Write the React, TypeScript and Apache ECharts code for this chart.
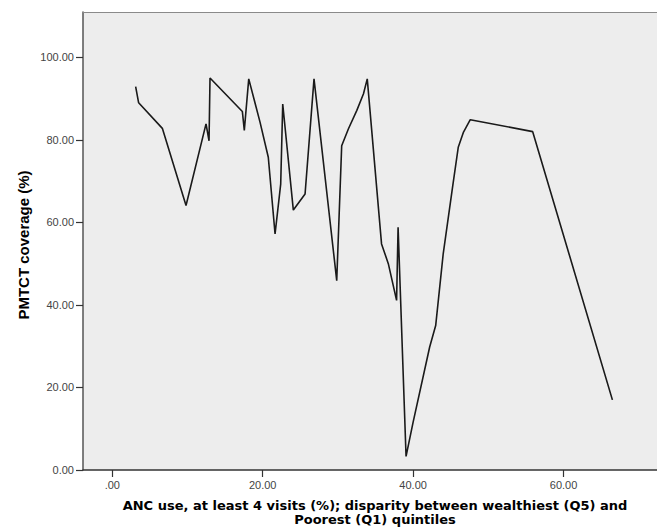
import React, { useEffect, useRef } from "react";
import * as echarts from "echarts";

const ancDisparity = [
  3.1, 3.5, 6.65, 9.8, 12.46, 12.86, 12.99, 17.29, 17.55, 18.14, 19.64, 20.74,
  21.64, 22.39, 22.66, 24.07, 25.63, 26.82, 29.84, 30.5, 31.4, 32.5, 33.4, 33.9,
  35.8, 36.7, 37.8, 38.0, 39.06, 40.0, 42.2, 43.0, 44.0, 45.3, 46.0, 46.7, 47.6,
  55.9, 66.5,
];
const pmtctCoverage = [
  92.9, 89.0, 82.8, 64.1, 83.9, 79.8, 95.0, 86.9, 82.3, 94.8, 84.3, 75.8,
  57.2, 69.3, 88.7, 63.0, 66.9, 94.8, 45.9, 78.6, 82.7, 87.1, 91.2, 94.8,
  54.8, 50.0, 41.1, 58.8, 3.3, 11.6, 29.8, 35.0, 52.4, 69.3, 78.2, 81.9, 84.9,
  82.0, 17.0,
];
const xTicks = [0, 20, 40, 60];
const yTicks = [0, 20, 40, 60, 80, 100];
const xTitle1 = "ANC use, at least 4 visits (%); disparity between wealthiest (Q5) and";
const xTitle2 = "Poorest (Q1) quintiles";
const yTitle = "PMTCT coverage (%)";

export default function App() {
  const ref = useRef<HTMLDivElement>(null);
  useEffect(() => {
    if (!ref.current) return;
    const chart = echarts.init(ref.current, undefined, { renderer: "svg" });
    const font = "'Liberation Sans', Arial, sans-serif";
    const wideFont = "'DejaVu Sans', Verdana, sans-serif";
    const xMin = -3.9;
    const xMax = 72.43;
    chart.setOption({
      animation: false,
      backgroundColor: "#ffffff",
      grid: {
        left: 83,
        top: 12,
        height: 458,
        right: 0,
        show: true,
        backgroundColor: "#EDEDED",
        borderWidth: 0,
      },
      xAxis: [
        {
          type: "value",
          min: xMin,
          max: xMax,
          axisLine: { show: true, onZero: false, lineStyle: { color: "#333", width: 1.5 } },
          axisTick: {
            show: true,
            length: 7,
            customValues: xTicks,
            lineStyle: { color: "#333", width: 1.2 },
          },
          axisLabel: {
            customValues: xTicks,
            margin: 9,
            fontSize: 11,
            color: "#444",
            fontFamily: font,
            formatter: (v: number) => (v === 0 ? ".00" : v.toFixed(2)),
          },
          splitLine: { show: false },
        },
        {
          type: "value",
          position: "top",
          min: xMin,
          max: xMax,
          axisLine: { show: true, onZero: false, lineStyle: { color: "#8a8a8a", width: 1.2 } },
          axisTick: { show: false },
          axisLabel: { show: false },
          splitLine: { show: false },
        },
      ],
      yAxis: {
        type: "value",
        min: 0,
        max: 111,
        axisLine: { show: true, onZero: false, lineStyle: { color: "#555", width: 1.5 } },
        axisTick: {
          show: true,
          length: 7,
          customValues: yTicks,
          lineStyle: { color: "#333", width: 1.2 },
        },
        axisLabel: {
          customValues: yTicks,
          margin: 9,
          fontSize: 11,
          color: "#444",
          fontFamily: font,
          formatter: (v: number) => v.toFixed(2),
        },
        splitLine: { show: false },
      },
      series: [
        {
          type: "line",
          xAxisIndex: 0,
          data: ancDisparity.map((x, i) => [x, pmtctCoverage[i]]),
          showSymbol: false,
          lineStyle: { color: "#1a1a1a", width: 1.6 },
        },
      ],
      graphic: [
        {
          type: "text",
          x: 375,
          y: 505,
          style: {
            text: xTitle1,
            fill: "#000",
            font: `bold 13px ${wideFont}`,
            textAlign: "center",
            textVerticalAlign: "middle",
          },
        },
        {
          type: "text",
          x: 375,
          y: 519,
          style: {
            text: xTitle2,
            fill: "#000",
            font: `bold 13px ${wideFont}`,
            textAlign: "center",
            textVerticalAlign: "middle",
          },
        },
        {
          type: "text",
          x: 23,
          y: 245,
          rotation: Math.PI / 2,
          style: {
            text: yTitle,
            fill: "#000",
            font: `bold 15px ${font}`,
            textAlign: "center",
            textVerticalAlign: "middle",
          },
        },
      ],
    });
    return () => chart.dispose();
  }, []);
  return (
    <div
      ref={ref}
      style={{ position: "absolute", left: 0, top: 0, width: 657, height: 532 }}
    />
  );
}
